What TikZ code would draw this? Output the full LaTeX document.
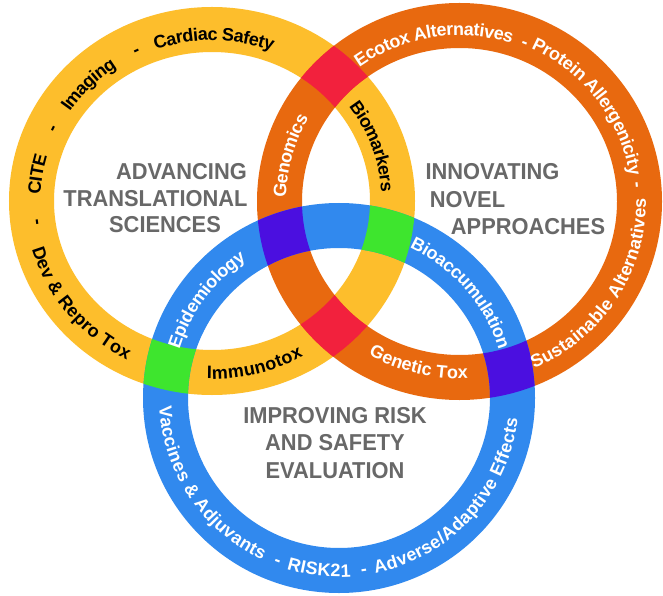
\documentclass[tikz,border=0pt]{standalone}
\usepackage{fontspec}
\setmainfont{Liberation Sans}
\newfontfamily\headfont{Liberation Sans}[FakeStretch=0.95]
\usetikzlibrary{decorations.text}
\definecolor{ringY}{HTML}{FDBE2C}
\definecolor{ringO}{HTML}{E8690F}
\definecolor{ringB}{HTML}{3189EE}
\definecolor{mixYO}{HTML}{F2213D}
\definecolor{mixOB}{HTML}{4B0FE0}
\definecolor{mixYB}{HTML}{3EE52E}
\definecolor{headgray}{HTML}{686868}
\newcommand\lblfont{\bfseries\fontsize{18}{18}\selectfont}
% clockwise label: #1 centre, #2 rx, #3 ry, #4 mid angle, #5 decoration keys, #6 text
\newcommand\cwtext[6]{\path[decorate,decoration={text along path,text align=center,raise=-6.5pt,#5,text={|\lblfont|#6}}] (#1) ++({#4+60}:#2 and #3) arc[start angle={#4+60},end angle={#4-60},x radius=#2,y radius=#3];}
\newcommand\ccwtext[6]{\path[decorate,decoration={text along path,text align=center,raise=-6.5pt,#5,text={|\lblfont|#6}}] (#1) ++({#4-60}:#2 and #3) arc[start angle={#4-60},end angle={#4+60},x radius=#2,y radius=#3];}
\begin{document}
\begin{tikzpicture}[x=1pt,y=1pt]
\tikzset{band/.style={line width=45pt},
  head/.style={font=\headfont\bfseries\fontsize{23}{23}\selectfont, text=headgray, inner sep=0pt, anchor=base}}
\useasboundingbox (0,0) rectangle (663,595);
\fill[white] (0,0) rectangle (663,595);
\coordinate (Y) at (212,394);
\coordinate (O) at (459.5,393.5);
\coordinate (B) at (339,197);
% rings
\draw[band,ringY] (Y) ellipse[x radius=180.5pt,y radius=171.5pt];
\draw[band,ringO] (O) ellipse[x radius=180pt,y radius=176pt];
\draw[band,ringB] (B) ellipse[x radius=173.5pt,y radius=172.5pt];
% overlaps
\begin{scope}[even odd rule]
\clip (Y) ellipse[x radius=203pt,y radius=194pt] (Y) ellipse[x radius=158pt,y radius=149pt];
\draw[band,mixYO] (O) ellipse[x radius=180pt,y radius=176pt];
\draw[band,mixYB] (B) ellipse[x radius=173.5pt,y radius=172.5pt];
\end{scope}
\begin{scope}[even odd rule]
\clip (O) ellipse[x radius=202.5pt,y radius=198.5pt] (O) ellipse[x radius=157.5pt,y radius=153.5pt];
\draw[band,mixOB] (B) ellipse[x radius=173.5pt,y radius=172.5pt];
\end{scope}
% yellow ring labels
\cwtext{Y}{180.5pt}{171.5pt}{186.9}{text color=black,raise=-9pt}{-}
\cwtext{Y}{180.5pt}{171.5pt}{171.2}{text color=black,raise=-9pt}{CITE}
\cwtext{Y}{180.5pt}{171.5pt}{155.2}{text color=black,raise=-9pt}{-}
\cwtext{Y}{180.5pt}{171.5pt}{136.2}{text color=black,raise=-10pt}{Imaging}
\cwtext{Y}{180.5pt}{171.5pt}{116.4}{text color=black,raise=-10pt}{-}
\cwtext{Y}{180.5pt}{171.5pt}{89.3}{text color=black,raise=-11pt}{Cardiac Safety}
\cwtext{Y}{180.5pt}{171.5pt}{19.1}{text color=black,raise=-11pt}{Biomarkers}
\ccwtext{Y}{180.5pt}{171.5pt}{-75.7}{text color=black}{Immunotox}
\ccwtext{Y}{180.5pt}{171.5pt}{218.4}{text color=black}{Dev {\&} Repro Tox}
% orange ring labels
\cwtext{O}{180pt}{176pt}{164.8}{text color=white}{Genomics}
\cwtext{O}{180pt}{176pt}{99.2}{text color=white,raise=-10pt}{Ecotox Alternatives}
\cwtext{O}{180pt}{176pt}{67.8}{text color=white,raise=-10pt}{-}
\cwtext{O}{180pt}{176pt}{36.8}{text color=white,raise=-8pt}{Protein Allergenicity}
\cwtext{O}{180pt}{176pt}{5.4}{text color=white}{-}
\ccwtext{O}{180pt}{176pt}{-32.5}{text color=white}{Sustainable Alternatives}
\ccwtext{O}{180pt}{176pt}{-104}{text color=white,raise=-1pt}{Genetic Tox}
% blue ring labels
\cwtext{B}{173.5pt}{172.5pt}{143.4}{text color=white}{Epidemiology}
\cwtext{B}{173.5pt}{172.5pt}{40.8}{text color=white}{Bioaccumulation}
\ccwtext{B}{173.5pt}{172.5pt}{213.6}{text color=white}{Vaccines {\&} Adjuvants}
\ccwtext{B}{173.5pt}{172.5pt}{249.4}{text color=white}{-}
\ccwtext{B}{173.5pt}{172.5pt}{263.4}{text color=white}{RISK21}
\ccwtext{B}{173.5pt}{172.5pt}{278.2}{text color=white}{-}
\ccwtext{B}{173.5pt}{172.5pt}{317.6}{text color=white}{Adverse/Adaptive Effects}
% headings
\node[head] (a1) at (181.5,415) {ADVANCING};
\node[head] (a2) at (155.5,388) {TRANSLATIONAL};
\node[head] (a3) at (165,362) {SCIENCES};
\node[head] (n1) at (492.5,415) {INNOVATING};
\node[head] (n2) at (467.5,387) {NOVEL};
\node[head] (n3) at (528,360) {APPROACHES};
\node[head] (r1) at (335,172) {IMPROVING RISK};
\node[head] (r2) at (335,145) {AND SAFETY};
\node[head] (r3) at (335,117) {EVALUATION};
\end{tikzpicture}
\end{document}
